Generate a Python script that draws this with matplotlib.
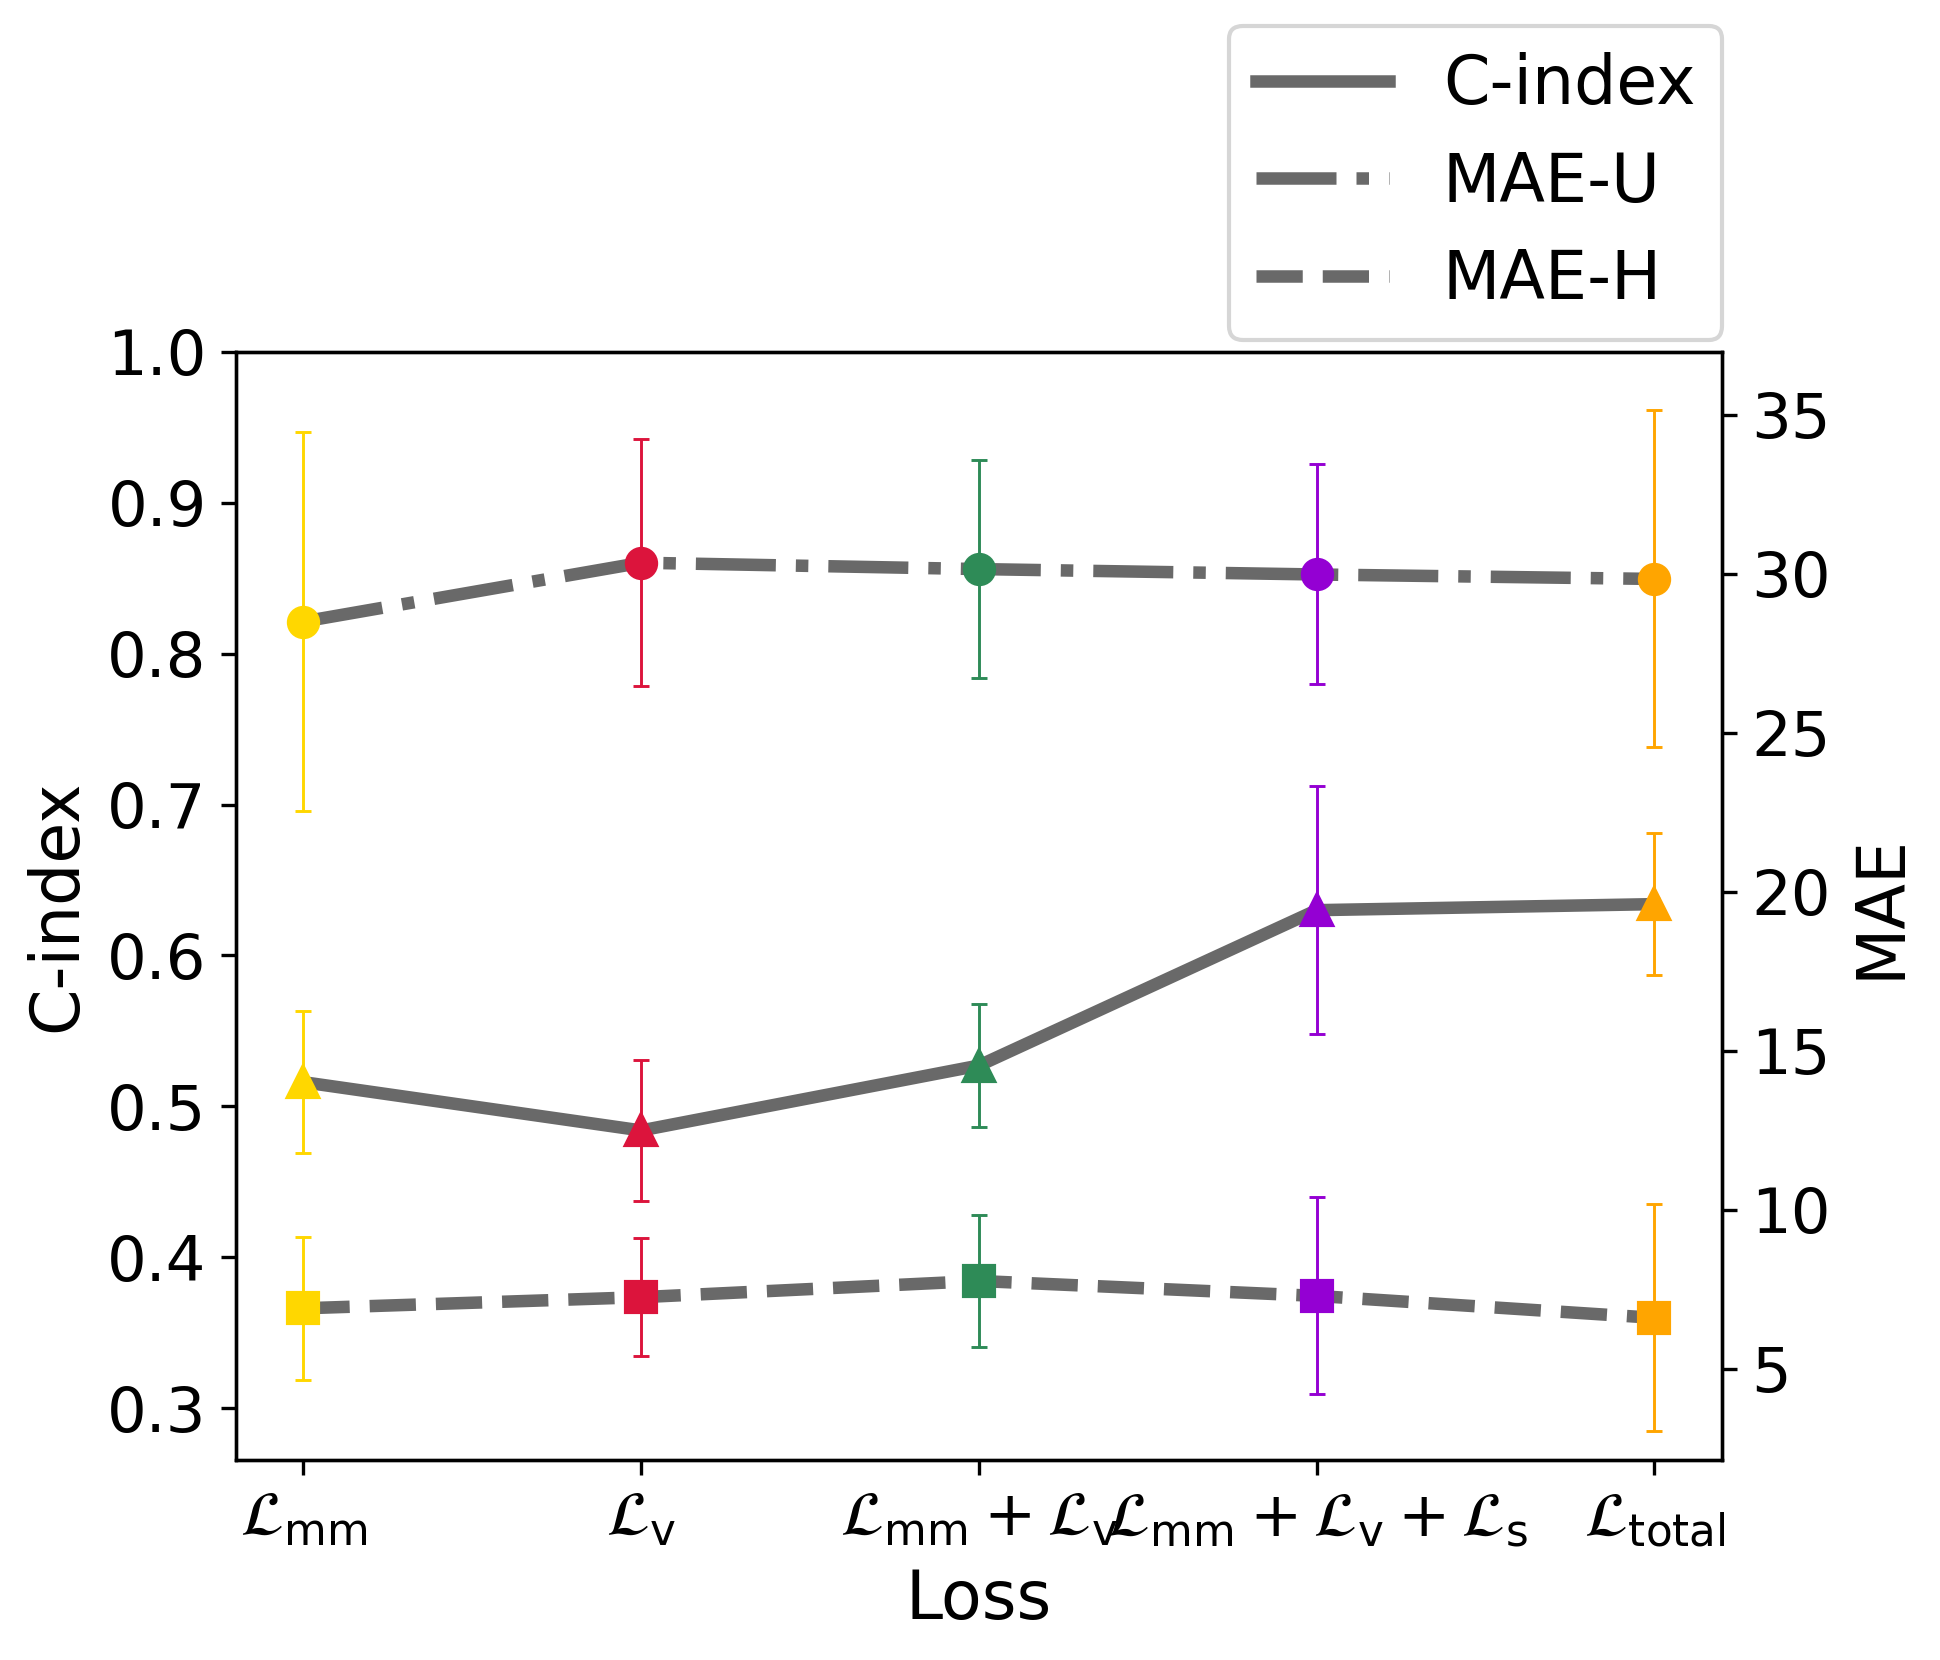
import matplotlib
matplotlib.use("Agg")
import matplotlib.pyplot as plt
from matplotlib.lines import Line2D

# ---- data ----
losses = [r"$\mathcal{L}_{\mathrm{mm}}$",
          r"$\mathcal{L}_{\mathrm{v}}$",
          r"$\mathcal{L}_{\mathrm{mm}}+\mathcal{L}_{\mathrm{v}}$",
          r"$\mathcal{L}_{\mathrm{mm}}+\mathcal{L}_{\mathrm{v}}+\mathcal{L}_{\mathrm{s}}$",
          r"$\mathcal{L}_{\mathrm{total}}$"]
cindex_mean = [0.516, 0.484, 0.527, 0.630, 0.634]
cindex_std = [0.047, 0.047, 0.041, 0.082, 0.047]
maeu_mean = [28.5, 30.35, 30.15, 29.98, 29.84]
maeu_std = [5.95, 3.88, 3.43, 3.46, 5.3]
maeh_mean = [6.90, 7.25, 7.76, 7.29, 6.60]
maeh_std = [2.25, 1.86, 2.07, 3.10, 3.57]
point_colors = ["#FFD700", "#DC143C", "#2E8B57", "#9400D3", "#FFA500"]

line_color = "#696969"
x = list(range(len(losses)))

fig = plt.figure(figsize=(1940/300, 1660/300), dpi=300)
ax = fig.add_axes([0.1216, 0.1205, 0.8876-0.1216, 0.788-0.1205])
ax2 = ax.twinx()

lw = 3
ms = 7
eb_kw = dict(elinewidth=0.7, capsize=2, capthick=0.7, ms=ms, linestyle="none")

# C-index on left axis
ax.plot(x, cindex_mean, color=line_color, lw=lw, linestyle="-", zorder=2)
for i in x:
    ax.errorbar(x[i], cindex_mean[i], yerr=cindex_std[i], fmt="^",
                color=point_colors[i], zorder=3, **eb_kw)

# MAE on right axis
ax2.plot(x, maeu_mean, color=line_color, lw=lw, linestyle="-.", zorder=2)
ax2.plot(x, maeh_mean, color=line_color, lw=lw, linestyle="--", zorder=2)
for i in x:
    ax2.errorbar(x[i], maeu_mean[i], yerr=maeu_std[i], fmt="o",
                 color=point_colors[i], zorder=3, **eb_kw)
    ax2.errorbar(x[i], maeh_mean[i], yerr=maeh_std[i], fmt="s",
                 color=point_colors[i], zorder=3, **eb_kw)

ax.set_xlim(-0.2, 4.2)
ax.set_ylim(0.2656, 1.0)
ax2.set_ylim(2.13, 36.98)
ax.set_xticks(x)
ax.set_xticklabels(losses)
ax.set_yticks([0.3, 0.4, 0.5, 0.6, 0.7, 0.8, 0.9, 1.0])
ax2.set_yticks([5, 10, 15, 20, 25, 30, 35])

ax.tick_params(axis="both", labelsize=15)
ax2.tick_params(axis="y", labelsize=15)
ax.set_xlabel("Loss", fontsize=16, labelpad=4.4)
ax.set_ylabel("C-index", fontsize=16)
ax2.set_ylabel("MAE", fontsize=16)

handles = [Line2D([], [], color=line_color, lw=lw, linestyle="-"),
           Line2D([], [], color=line_color, lw=lw, linestyle="-."),
           Line2D([], [], color=line_color, lw=lw, linestyle="--")]
ax.legend(handles, ["C-index", "MAE-U", "MAE-H"], fontsize=16,
          loc="lower right", bbox_to_anchor=(1.0, 1.011), borderaxespad=0,
          labelspacing=0.47)

fig.savefig("out.png", dpi=300)
